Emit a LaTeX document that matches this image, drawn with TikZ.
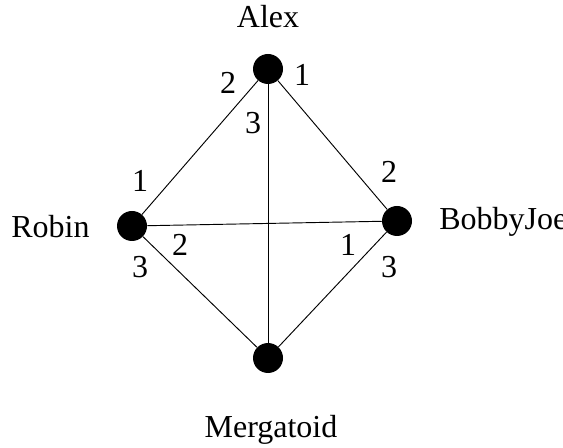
\documentclass[tikz,border=0pt]{standalone}
\usepackage{fontspec}
\setmainfont{Liberation Serif}
\begin{document}
\begin{tikzpicture}[x=0.75pt,y=-0.75pt,
  vert/.style={circle,fill=black,inner sep=0pt,minimum size=22.5pt},
  edge/.style={draw=black,line width=0.7pt},
  lbl/.style={inner sep=0pt,font=\fontsize{24}{29}\selectfont},
  num/.style={inner sep=0pt,font=\fontsize{24}{29}\selectfont}]
\useasboundingbox (0,0) rectangle (563,448);
\node[vert] (A) at (268,69) {};
\node[vert] (R) at (132,226) {};
\node[vert] (B) at (397,221) {};
\node[vert] (M) at (268,358) {};
\draw[edge] (A) -- (R);
\draw[edge] (A) -- (B);
\draw[edge] (A) -- (M);
\draw[edge] (R) -- (B);
\draw[edge] (R) -- (M);
\draw[edge] (B) -- (M);
\node[lbl,anchor=base] (la) at (268,28) {Alex};
\node[lbl,anchor=base west] (lr) at (11,238) {Robin};
\node[lbl,anchor=base west] (lb) at (439,230) {BobbyJoe};
\node[lbl,anchor=base] (lm) at (271,437) {Mergatoid};
\node[num] (a2) at (228,83) {2};
\node[num] (a1) at (302,75) {1};
\node[num] (a3) at (253,123) {3};
\node[num] (r1) at (140,181) {1};
\node[num] (r2) at (180,245) {2};
\node[num] (r3) at (140,267) {3};
\node[num] (b2) at (389,172) {2};
\node[num] (b1) at (348,245) {1};
\node[num] (b3) at (389,267) {3};
\end{tikzpicture}
\end{document}
